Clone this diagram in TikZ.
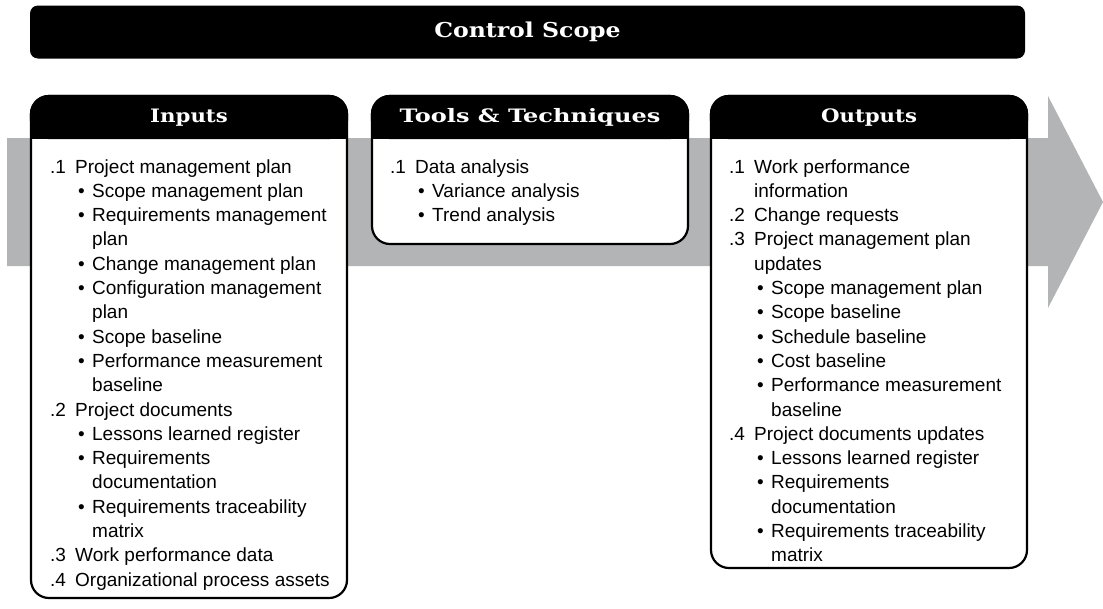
\documentclass[tikz,border=0pt]{standalone}
\usepackage{fontspec}
\setmainfont{Liberation Sans}
\newfontfamily\headfont[FakeStretch=1.15]{DejaVu Serif}
\newfontfamily\wideheadfont[FakeStretch=1.3]{DejaVu Serif}
\definecolor{flowgray}{RGB}{178,180,182}

% list lines: numbered item, bullet, continuation lines
\newcommand{\itm}[2]{\makebox[25pt][l]{#1}#2}
\newcommand{\bul}[1]{\hspace*{28pt}\makebox[14pt][l]{\textbullet}#1}
\newcommand{\cnt}[1]{\hspace*{25pt}#1}
\newcommand{\bcnt}[1]{\hspace*{42pt}#1}

\begin{document}
\begin{tikzpicture}[
        x=1pt, y=-1pt,
        panel/.style={draw, fill=white, line width=2.2pt, rounded corners=18pt,
        outer sep=0pt, minimum width=316pt, anchor=north west},
        head/.style={text=white, font=\headfont\bfseries\fontsize{18.5}{22}\selectfont},
        body/.style={align=left, inner sep=0pt, anchor=base west,
        font=\fontsize{19}{24.3}\selectfont}
      ]
    \useasboundingbox (0,0) rectangle (1103,608);
    % flow arrow behind the panels
    \fill[flowgray] (7,138) -- (1048,138) -- (1048,96) -- (1103,202)
      -- (1048,308) -- (1048,266) -- (7,266) -- cycle;
    \node[fill=black, rounded corners=8pt, minimum width=995pt, minimum height=53pt,
      text=white, font=\headfont\bfseries\fontsize{20.5}{24}\selectfont]
      (title) at (527.5,32) {Control Scope};
    \node[panel, minimum height=502pt] (inputs) at (31,96) {};
    \node[panel, minimum height=148pt] (tools) at (372,96) {};
    \node[panel, minimum height=472pt] (outputs) at (711,96) {};
    \foreach \p in {inputs, tools, outputs} {
      \filldraw[line width=2.2pt, rounded corners=18pt]
        (\p.north west) rectangle ([yshift=-42pt]\p.north east);
      \fill ([yshift=-20pt]\p.north west) rectangle ([yshift=-43pt]\p.north east);
    }
    \node[head] (inhead) at ([yshift=-21.5pt]inputs.north) {Inputs};
    \node[head, font=\wideheadfont\bfseries\fontsize{18.5}{22}\selectfont]
      (toolhead) at ([yshift=-21.5pt]tools.north) {Tools \& Techniques};
    \node[head] (outhead) at ([yshift=-21.5pt]outputs.north) {Outputs};
    % lists are anchored at the baseline of their last line
    \node[body] (inlist) at ([xshift=19pt, yshift=-490.1pt]inputs.north west)
    {\itm{.1}{Project management plan}\\
    \bul{Scope management plan}\\
    \bul{Requirements management}\\
    \bcnt{plan}\\
    \bul{Change management plan}\\
    \bul{Configuration management}\\
    \bcnt{plan}\\
    \bul{Scope baseline}\\
    \bul{Performance measurement}\\
    \bcnt{baseline}\\
    \itm{.2}{Project documents}\\
    \bul{Lessons learned register}\\
    \bul{Requirements}\\
    \bcnt{documentation}\\
    \bul{Requirements traceability}\\
    \bcnt{matrix}\\
    \itm{.3}{Work performance data}\\
    \itm{.4}{Organizational process assets}};
    \node[body] (toollist) at ([xshift=18pt, yshift=-125.6pt]tools.north west)
    {\itm{.1}{Data analysis}\\
    \bul{Variance analysis}\\
    \bul{Trend analysis}};
    \node[body] (outlist) at ([xshift=18pt, yshift=-465.8pt]outputs.north west)
    {\itm{.1}{Work performance}\\
    \cnt{information}\\
    \itm{.2}{Change requests}\\
    \itm{.3}{Project management plan}\\
    \cnt{updates}\\
    \bul{Scope management plan}\\
    \bul{Scope baseline}\\
    \bul{Schedule baseline}\\
    \bul{Cost baseline}\\
    \bul{Performance measurement}\\
    \bcnt{baseline}\\
    \itm{.4}{Project documents updates}\\
    \bul{Lessons learned register}\\
    \bul{Requirements}\\
    \bcnt{documentation}\\
    \bul{Requirements traceability}\\
    \bcnt{matrix}};
      \end{tikzpicture}
\end{document}
